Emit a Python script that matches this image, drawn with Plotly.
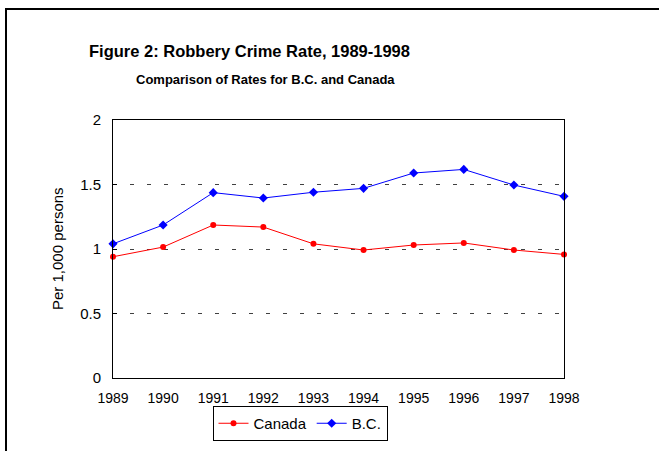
import plotly.graph_objects as go

years = [1989, 1990, 1991, 1992, 1993, 1994, 1995, 1996, 1997, 1998]
canada = [0.94, 1.015, 1.186, 1.17, 1.04, 0.992, 1.031, 1.047, 0.992, 0.958]
bc = [1.04, 1.186, 1.437, 1.395, 1.44, 1.47, 1.589, 1.617, 1.496, 1.408]
y_ticks = [0, 0.5, 1, 1.5, 2]

W, H = 659, 451
L, R, T, B = 113, 95, 120, 73
pw, ph = W - L - R, H - T - B

def px(x):
    return (x - L) / pw

def py(y):
    return (H - B - y) / ph

FONT = "Liberation Sans, Arial, sans-serif"

fig = go.Figure()
fig.add_trace(go.Scatter(x=years, y=canada, name="Canada", mode="lines+markers",
                         line=dict(color="#ff0000", width=1),
                         marker=dict(symbol="circle", size=6, color="#ff0000"),
                         cliponaxis=False))
fig.add_trace(go.Scatter(x=years, y=bc, name="B.C.", mode="lines+markers",
                         line=dict(color="#0000ff", width=1),
                         marker=dict(symbol="diamond", size=7, color="#0000ff"),
                         cliponaxis=False))

fig.update_layout(
    width=W, height=H,
    margin=dict(l=L, r=R, t=T, b=B, autoexpand=False),
    paper_bgcolor="white", plot_bgcolor="white",
    font=dict(family=FONT, size=14, color="black"),
    showlegend=True,
    legend=dict(orientation="h", x=px(300), xanchor="center", y=py(406), yanchor="top",
                bordercolor="black", borderwidth=1, font=dict(size=15), itemwidth=30,
                bgcolor="white", tracegroupgap=0),
    xaxis=dict(range=[1989, 1998], tickvals=years, ticktext=[str(y) for y in years],
               showgrid=False, zeroline=False, showline=True, linecolor="black",
               linewidth=1, mirror=True, ticks="", tickfont=dict(size=14),
               ticklabelstandoff=7, automargin=False),
    yaxis=dict(range=[0, 2], tickvals=y_ticks, ticktext=["0", "0.5", "1", "1.5", "2"],
               showgrid=True, gridcolor="#404040", griddash="4px,13px", gridwidth=1,
               zeroline=False, showline=True, linecolor="black", linewidth=1,
               mirror=True, ticks="inside", ticklen=4, tickcolor="black",
               tickfont=dict(size=15), ticklabelstandoff=8, automargin=False),
    annotations=[
        dict(text="<b>Figure 2: Robbery Crime Rate, 1989-1998</b>", xref="paper", yref="paper",
             x=px(249), y=py(51), xanchor="center", yanchor="middle", showarrow=False,
             font=dict(size=16.5, family=FONT)),
        dict(text="<b>Comparison of Rates for B.C. and Canada</b>", xref="paper", yref="paper",
             x=px(265), y=py(80), xanchor="center", yanchor="middle", showarrow=False,
             font=dict(size=13, family=FONT)),
        dict(text="Per 1,000 persons", xref="paper", yref="paper", textangle=-90,
             x=px(57), y=py(249), xanchor="center", yanchor="middle", showarrow=False,
             font=dict(size=15, family=FONT)),
    ],
    shapes=[
        dict(type="rect", xref="paper", yref="paper", x0=px(6), x1=px(720), y0=py(520), y1=py(9),
             line=dict(color="black", width=2), layer="below"),
    ],
)

fig.write_html("out.html")
